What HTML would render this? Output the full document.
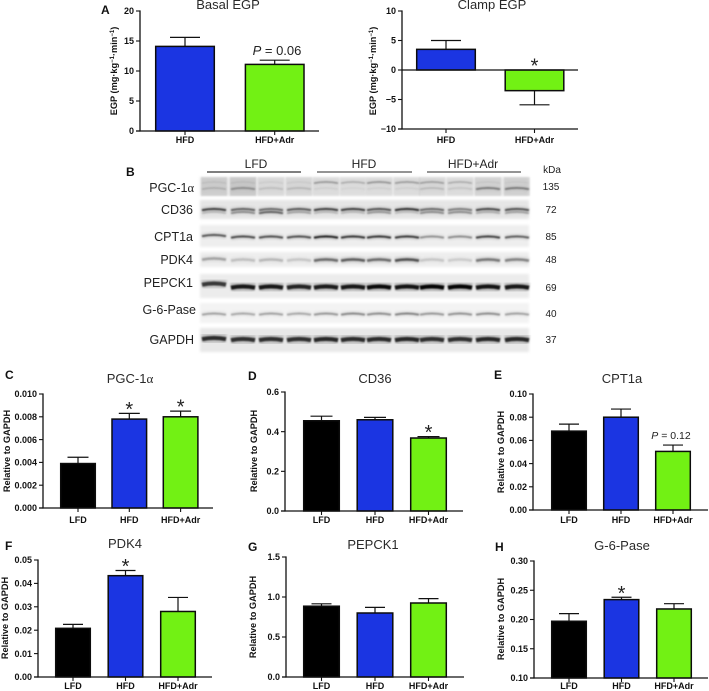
<!DOCTYPE html>
<html lang="en">
<head>
<meta charset="utf-8">
<title>EGP and western blot figure</title>
<style>
html,body{margin:0;padding:0;background:#fff;width:709px;height:691px;overflow:hidden}
svg{display:block;font-family:"Liberation Sans",Arial,sans-serif}
.tick{font-size:9px;font-weight:bold;fill:#111;text-anchor:end}
.cat{font-size:9px;font-weight:bold;fill:#111;text-anchor:middle}
.ytitle{font-size:9.2px;font-weight:bold;fill:#111;text-anchor:middle}
.title{font-size:13px;fill:#2a2a2a;text-anchor:middle}
.letter{font-size:12px;font-weight:bold;fill:#111}
.blotlabel{font-size:12.5px;fill:#222;text-anchor:end}
.kda{font-size:10px;fill:#222;text-anchor:middle}
.group{font-size:12px;fill:#222;text-anchor:middle}
</style>
</head>
<body>
<svg id="fig" xmlns="http://www.w3.org/2000/svg" width="709" height="691" viewBox="0 0 709 691">
  <defs>
    <filter id="bandBlur" x="-10%" y="-300%" width="120%" height="700%"><feGaussianBlur stdDeviation="0.7"/></filter>
    <filter id="haloBlur" x="-10%" y="-300%" width="120%" height="700%"><feGaussianBlur stdDeviation="1.4"/></filter>
    <filter id="stripBlur" x="-5%" y="-30%" width="110%" height="160%"><feGaussianBlur stdDeviation="1.2"/></filter>
  </defs>

  <text class="letter" x="101" y="14">A</text>
  <text class="letter" x="126" y="176">B</text>
  <text class="letter" x="5" y="379">C</text>
  <text class="letter" x="248" y="380">D</text>
  <text class="letter" x="494" y="379">E</text>
  <text class="letter" x="5" y="550">F</text>
  <text class="letter" x="248" y="551">G</text>
  <text class="letter" x="495" y="551">H</text>

  <text class="title" x="228" y="9">Basal EGP</text>
  <text class="title" x="492" y="9">Clamp EGP</text>
  <text class="title" x="130" y="383">PGC-1<tspan font-family="'Liberation Serif',serif">α</tspan></text>
  <text class="title" x="375" y="383">CD36</text>
  <text class="title" x="622" y="383">CPT1a</text>
  <text class="title" x="125" y="548">PDK4</text>
  <text class="title" x="373" y="549">PEPCK1</text>
  <text class="title" x="622" y="550">G-6-Pase</text>

  <text class="ytitle" transform="translate(117,71) rotate(-90)">EGP (mg·kg<tspan font-size="6" dy="-3">−1</tspan><tspan dy="3">·min</tspan><tspan font-size="6" dy="-3">−1</tspan><tspan dy="3">)</tspan></text>
  <text class="ytitle" transform="translate(376,71) rotate(-90)">EGP (mg·kg<tspan font-size="6" dy="-3">−1</tspan><tspan dy="3">·min</tspan><tspan font-size="6" dy="-3">−1</tspan><tspan dy="3">)</tspan></text>
  <text class="ytitle" transform="translate(10,451) rotate(-90)">Relative to GAPDH</text>
  <text class="ytitle" transform="translate(257,451) rotate(-90)">Relative to GAPDH</text>
  <text class="ytitle" transform="translate(504,452) rotate(-90)">Relative to GAPDH</text>
  <text class="ytitle" transform="translate(8,618) rotate(-90)">Relative to GAPDH</text>
  <text class="ytitle" transform="translate(256,617) rotate(-90)">Relative to GAPDH</text>
  <text class="ytitle" transform="translate(504,619) rotate(-90)">Relative to GAPDH</text>

  <text font-size="13" fill="#222" text-anchor="middle" x="277" y="55"><tspan font-style="italic">P</tspan> = 0.06</text>
  <text font-size="10.5" fill="#222" text-anchor="middle" x="671" y="439"><tspan font-style="italic">P</tspan> = 0.12</text>

  <g>
    <text class="group" x="256" y="168">LFD</text>
    <text class="group" x="364" y="168">HFD</text>
    <text class="group" x="473" y="168">HFD+Adr</text>
    <line x1="207" x2="301" y1="172" y2="172" stroke="#333" stroke-width="1.3"/>
    <line x1="317" x2="412" y1="172" y2="172" stroke="#555" stroke-width="1.3"/>
    <line x1="427" x2="521" y1="172" y2="172" stroke="#555" stroke-width="1.3"/>
    <text class="blotlabel" x="194" y="192">PGC-1<tspan font-family="'Liberation Serif',serif">α</tspan></text>
    <text class="blotlabel" x="193" y="214">CD36</text>
    <text class="blotlabel" x="193" y="241">CPT1a</text>
    <text class="blotlabel" x="193" y="264">PDK4</text>
    <text class="blotlabel" x="193" y="287">PEPCK1</text>
    <text class="blotlabel" x="196" y="314">G-6-Pase</text>
    <text class="blotlabel" x="194" y="344">GAPDH</text>
    <text class="kda" x="552" y="173" font-size="9.5">kDa</text>
    <text class="kda" x="551" y="190">135</text>
    <text class="kda" x="551" y="213">72</text>
    <text class="kda" x="551" y="240">85</text>
    <text class="kda" x="551" y="263">48</text>
    <text class="kda" x="551" y="291">69</text>
    <text class="kda" x="551" y="317">40</text>
    <text class="kda" x="551" y="343">37</text>
  </g>
  <g id="blots"></g>
  <g id="charts"></g>
</svg>

<script>
// Bar chart data
const twoGroups = ['HFD', 'HFD+Adr'];
const threeGroups = ['LFD', 'HFD', 'HFD+Adr'];

const basalValues = [14.1, 11.1];
const basalErrors = [15.6, 11.8];
const basalTicks = [0, 5, 10, 15, 20];
const basalStars = [false, false];

const clampValues = [3.5, -3.5];
const clampErrors = [5.0, -5.9];
const clampTicks = [-10, -5, 0, 5, 10];
const clampStars = [false, true];

const pgcValues = [0.0039, 0.0078, 0.0080];
const pgcErrors = [0.00445, 0.0083, 0.0085];
const pgcTicks = [0, 0.002, 0.004, 0.006, 0.008, 0.010];
const pgcStars = [false, true, true];

const cd36Values = [0.455, 0.46, 0.368];
const cd36Errors = [0.478, 0.472, 0.375];
const cd36Ticks = [0, 0.2, 0.4, 0.6];
const cd36Stars = [false, false, true];

const cptValues = [0.068, 0.080, 0.0505];
const cptErrors = [0.074, 0.087, 0.056];
const cptTicks = [0, 0.02, 0.04, 0.06, 0.08, 0.10];
const cptStars = [false, false, false];

const pdkValues = [0.0208, 0.0433, 0.028];
const pdkErrors = [0.0225, 0.0455, 0.034];
const pdkTicks = [0, 0.01, 0.02, 0.03, 0.04, 0.05];
const pdkStars = [false, true, false];

const pepckValues = [0.885, 0.80, 0.925];
const pepckErrors = [0.915, 0.87, 0.98];
const pepckTicks = [0, 0.5, 1.0, 1.5];
const pepckStars = [false, false, false];

const g6Values = [0.197, 0.234, 0.218];
const g6Errors = [0.21, 0.238, 0.227];
const g6Ticks = [0.10, 0.15, 0.20, 0.25, 0.30];
const g6Stars = [false, true, false];

// Band intensity per lane for each blot
const pgcUpperBands = [.08, .08, .06, .06, .32, .22, .34, .3, .28, .22, .06, .04];
const pgcLowerBands = [.14, .3, .12, .14, .05, .04, .05, .05, .14, .1, .42, .42];
const pgcLaneShade = [.1, .12, .05, .06, .04, .03, .04, .04, .05, .04, .08, .09];
const cd36UpperBands = [.72, .55, .5, .6, .72, .72, .62, .8, .5, .42, .68, .62];
const cd36LowerBands = [.15, .35, .55, .25, .15, .15, .3, .12, .35, .35, .2, .25];
const cptBands = [.62, .68, .66, .66, .88, .78, .78, .76, .36, .38, .72, .58];
const pdkBands = [.28, .17, .2, .14, .5, .56, .5, .62, .14, .12, .45, .4];
const pepckBands = [.72, .88, .88, .82, .86, .88, .95, .9, .98, .98, .9, .88];
const g6Bands = [.3, .28, .3, .28, .34, .4, .38, .42, .34, .36, .38, .3];
const gapdhBands = [.78, .76, .76, .76, .8, .78, .78, .8, .76, .76, .8, .8];

const svgNS = 'http://www.w3.org/2000/svg';
const laneCenters = [214, 243, 271, 299, 326, 353, 379, 407, 432, 460, 488, 517];

function make(parent, tag, attrs, text) {
  const node = document.createElementNS(svgNS, tag);
  for (const key in attrs) node.setAttribute(key, attrs[key]);
  if (text !== undefined) node.textContent = text;
  parent.appendChild(node);
  return node;
}

function drawBlot(name, top, height, stripColor, bands, lift, laneShade) {
  const host = document.getElementById('blots');
  const row = make(host, 'g', {});
  
  
  const strip = make(row, 'rect', {x: 200, y: top, width: 329, height: height, fill: stripColor, filter: 'url(#stripBlur)'});
  
  
  if (laneShade) {
    laneShade.forEach(function (shade, lane) {
      const patch = make(row, 'rect', {x: laneCenters[lane] - 13, y: top, width: 26, height: height, fill: '#000', opacity: shade, filter: 'url(#bandBlur)'});
      
      
    });
  }
  bands.forEach(function (band) {
    band.values.forEach(function (value, lane) {
      const cx = laneCenters[lane];
      const y = band.y - (lane === 0 ? lift : 0);
      const d = 'M' + (cx - 12) + ' ' + (y + 0.7) + ' Q' + cx + ' ' + (y - 1.8) + ' ' + (cx + 12) + ' ' + (y + 0.7);
      const halo = make(row, 'path', {d: d, fill: 'none', stroke: '#000', 'stroke-width': band.width * 2.6, 'stroke-opacity': value * 0.2, filter: 'url(#haloBlur)'});
      
      
      const path = make(row, 'path', {d: d, fill: 'none', stroke: '#000', 'stroke-width': band.width, 'stroke-opacity': value, filter: 'url(#bandBlur)'});
      
      
    });
  });
}

drawBlot('pgc1a', 177, 19, '#e6e6e6', [{y: 182.5, width: 1.4, values: pgcUpperBands}, {y: 188.5, width: 1.6, values: pgcLowerBands}], 0, pgcLaneShade);
drawBlot('cd36', 200, 19, '#e6e6e6', [{y: 209.5, width: 1.9, values: cd36UpperBands}, {y: 212.5, width: 1.8, values: cd36LowerBands}], 0);
drawBlot('cpt1a', 225, 22, '#eeeeee', [{y: 237, width: 1.9, values: cptBands}], 1.5);
drawBlot('pdk4', 252, 15, '#eeeeee', [{y: 260, width: 2.6, values: pdkBands}], 1);
drawBlot('pepck1', 274, 24, '#ececec', [{y: 287, width: 4.2, values: pepckBands}], 3);
drawBlot('g6pase', 303, 20, '#f3f3f3', [{y: 314, width: 2, values: g6Bands}], 0);
drawBlot('gapdh', 328, 24, '#e8e8e8', [{y: 339.5, width: 4.2, values: gapdhBands}], 1);

const barFill = {'LFD': '#000000', 'HFD': '#1b35e2', 'HFD+Adr': '#72f114'};

function drawChart(name, opt, categories, values, errors, ticks, stars, digits) {
  const host = document.getElementById('charts');
  const group = make(host, 'g', {});
  
  

  const yMin = ticks[0];
  const yMax = ticks[ticks.length - 1];
  const yScale = function (v) { return opt.yBottom - (v - yMin) / (yMax - yMin) * (opt.yBottom - opt.yTop); };
  const xScale = function (i) { return opt.firstCenter + i * opt.step; };
  const base = yScale(yMin < 0 ? 0 : yMin);

  values.forEach(function (value, i) {
    const cx = xScale(i);
    const top = yScale(value);
    const err = yScale(errors[i]);

    const errLine = make(group, 'line', {x1: cx, x2: cx, y1: top, y2: err, stroke: '#111', 'stroke-width': 1.2});
    
    

    const errCap = make(group, 'line', {x1: cx - opt.cap / 2, x2: cx + opt.cap / 2, y1: err, y2: err, stroke: '#111', 'stroke-width': 1.2});
    
    

    const bar = make(group, 'rect', {
      x: cx - opt.barWidth / 2 + 0.7, width: opt.barWidth - 1.4,
      y: Math.min(top, base), height: Math.abs(base - top),
      fill: barFill[categories[i]], stroke: '#0c0c0c', 'stroke-width': 1.5
    });
    
    

    const xTick = make(group, 'line', {x1: cx, x2: cx, y1: opt.yBottom, y2: opt.yBottom + 4, stroke: '#111', 'stroke-width': 1.1});
    
    

    const label = make(group, 'text', {'class': 'cat', x: cx, y: opt.labelY}, categories[i]);
    
    

    if (stars[i]) {
      const anchor = value < 0 ? base : err;
      const star = make(group, 'text', {x: cx, y: anchor + 2.5, 'font-size': 20, fill: '#222', 'text-anchor': 'middle'}, '*');
      
      
    }
  });

  const yAxis = make(group, 'line', {x1: opt.axisX, x2: opt.axisX, y1: opt.yTop - 0.6, y2: opt.yBottom + 0.6, stroke: '#111', 'stroke-width': 1.3});
  
  

  const xAxis = make(group, 'line', {x1: opt.axisX - 4, x2: opt.right, y1: opt.yBottom, y2: opt.yBottom, stroke: '#111', 'stroke-width': 1.3});
  
  

  if (yMin < 0) {
    const zero = make(group, 'line', {x1: opt.axisX, x2: opt.right, y1: yScale(0), y2: yScale(0), stroke: '#111', 'stroke-width': 1.3});
    
    
  }

  ticks.forEach(function (t) {
    const y = yScale(t);
    const tick = make(group, 'line', {x1: opt.axisX - 4, x2: opt.axisX, y1: y, y2: y, stroke: '#111', 'stroke-width': 1.1});
    
    
    const text = t.toFixed(digits).replace('-', '−');
    const label = make(group, 'text', {'class': 'tick', x: opt.axisX - 6, y: y + 3.2}, text);
    
    
  });
}

drawChart('basal-egp', {axisX: 140, right: 319, yTop: 11, yBottom: 131, firstCenter: 185, step: 89.7, barWidth: 60, cap: 30, labelY: 143}, twoGroups, basalValues, basalErrors, basalTicks, basalStars, 0);
drawChart('clamp-egp', {axisX: 402, right: 578, yTop: 11, yBottom: 129, firstCenter: 446, step: 88.5, barWidth: 60, cap: 30, labelY: 143}, twoGroups, clampValues, clampErrors, clampTicks, clampStars, 0);
drawChart('pgc1a', {axisX: 43, right: 213, yTop: 394, yBottom: 508, firstCenter: 78, step: 51.3, barWidth: 36, cap: 21, labelY: 523}, threeGroups, pgcValues, pgcErrors, pgcTicks, pgcStars, 3);
drawChart('cd36', {axisX: 285, right: 463, yTop: 392, yBottom: 511, firstCenter: 321.5, step: 53.5, barWidth: 37, cap: 22, labelY: 523}, threeGroups, cd36Values, cd36Errors, cd36Ticks, cd36Stars, 1);
drawChart('cpt1a', {axisX: 533, right: 708, yTop: 394, yBottom: 510, firstCenter: 569, step: 52, barWidth: 36, cap: 20, labelY: 523}, threeGroups, cptValues, cptErrors, cptTicks, cptStars, 2);
drawChart('pdk4', {axisX: 38, right: 212, yTop: 560, yBottom: 677, firstCenter: 73, step: 52.5, barWidth: 36, cap: 20, labelY: 689}, threeGroups, pdkValues, pdkErrors, pdkTicks, pdkStars, 2);
drawChart('pepck1', {axisX: 286, right: 464, yTop: 557, yBottom: 677, firstCenter: 321.5, step: 53.5, barWidth: 37, cap: 20, labelY: 689}, threeGroups, pepckValues, pepckErrors, pepckTicks, pepckStars, 1);
drawChart('g6pase', {axisX: 534, right: 708, yTop: 561, yBottom: 678, firstCenter: 569, step: 52.5, barWidth: 36, cap: 20, labelY: 689}, threeGroups, g6Values, g6Errors, g6Ticks, g6Stars, 2);
</script>
</body>
</html>
